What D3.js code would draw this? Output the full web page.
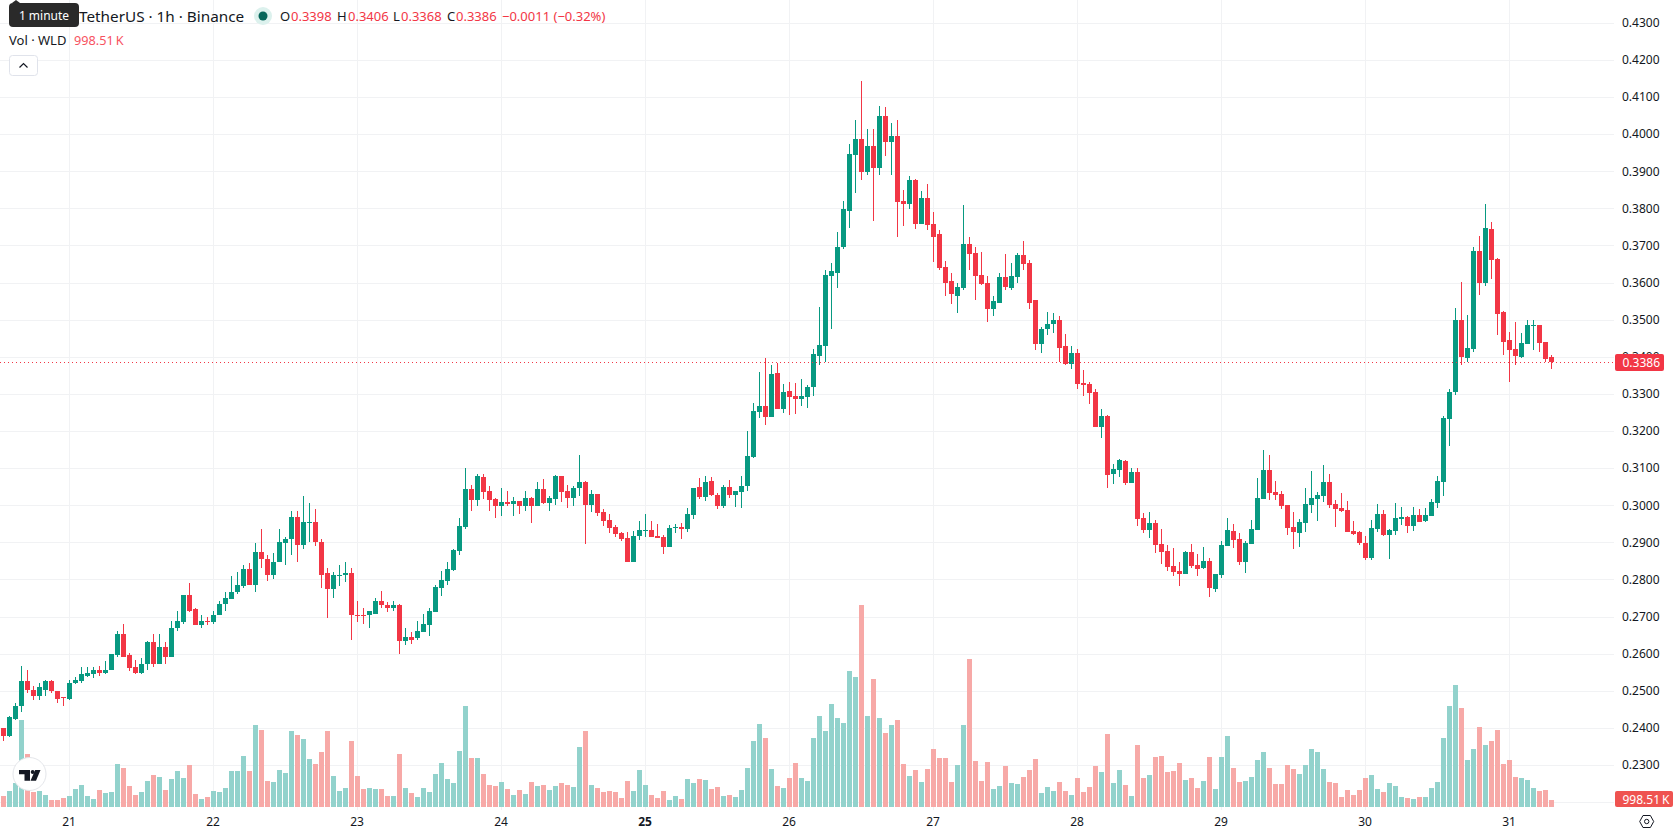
<!DOCTYPE html>
<html>
<head>
<meta charset="utf-8">
<title>WLD / TetherUS 1h</title>
<script src="https://cdn.jsdelivr.net/npm/d3@7"></script>
<style>
  html, body { margin: 0; padding: 0; background: #fff; overflow: hidden; }
  svg { display: block; font-family: "Noto Sans", sans-serif; }
</style>
</head>
<body>
<svg id="chart" width="1678" height="835"></svg>
<script>
// Hourly candles, oldest first.
const opens = [
  0.2399,0.2378,0.2425,0.2458,0.2525,0.2501,0.2485,0.2503,0.2525,0.2498,
  0.2482,0.2479,0.2520,0.2525,0.2541,0.2546,0.2555,0.2549,0.2555,0.2595,
  0.2654,0.2595,0.2563,0.2549,0.2571,0.2630,0.2573,0.2619,0.2592,0.2668,
  0.2684,0.2757,0.2719,0.2676,0.2689,0.2684,0.2703,0.2735,0.2746,0.2767,
  0.2781,0.2827,0.2784,0.2873,0.2856,0.2811,0.2846,0.2897,0.2908,0.2967,
  0.2894,0.2953,0.2956,0.2902,0.2816,0.2773,0.2808,0.2813,0.2816,0.2705,
  0.2705,0.2703,0.2708,0.2743,0.2732,0.2722,0.2730,0.2633,0.2646,0.2641,
  0.2659,0.2677,0.2712,0.2776,0.2795,0.2825,0.2876,0.2941,0.3043,0.3014,
  0.3076,0.3038,0.3016,0.2997,0.3008,0.3003,0.3011,0.2997,0.3019,0.2997,
  0.3043,0.3005,0.3016,0.3078,0.3038,0.3019,0.3046,0.3062,0.3000,0.3030,
  0.2981,0.2960,0.2941,0.2925,0.2911,0.2846,0.2917,0.2930,0.2933,0.2917,
  0.2914,0.2887,0.2938,0.2941,0.2935,0.2973,0.3049,0.3022,0.3065,0.3027,
  0.2997,0.3049,0.3027,0.3035,0.3051,0.3129,0.3251,0.3267,0.3237,0.3356,
  0.3259,0.3307,0.3294,0.3286,0.3291,0.3318,0.3401,0.3428,0.3617,0.3627,
  0.3695,0.3794,0.3943,0.3986,0.3897,0.3967,0.3908,0.4050,0.3978,0.3994,
  0.3819,0.3811,0.3875,0.3759,0.3829,0.3757,0.3730,0.3641,0.3603,0.3565,
  0.3584,0.3703,0.3679,0.3619,0.3598,0.3528,0.3546,0.3614,0.3584,0.3614,
  0.3673,0.3652,0.3552,0.3433,0.3474,0.3487,0.3498,0.3429,0.3380,0.3410,
  0.3329,0.3327,0.3305,0.3211,0.3240,0.3084,0.3095,0.3119,0.3060,0.3089,
  0.2965,0.2933,0.2952,0.2895,0.2876,0.2836,0.2822,0.2814,0.2874,0.2839,
  0.2831,0.2849,0.2774,0.2812,0.2890,0.2930,0.2909,0.2847,0.2895,0.2933,
  0.3017,0.3095,0.3035,0.3030,0.3000,0.2941,0.2925,0.2952,0.3000,0.3017,
  0.3025,0.3062,0.3003,0.2992,0.2987,0.2930,0.2928,0.2898,0.2858,0.2936,
  0.2977,0.2920,0.2931,0.2963,0.2968,0.2944,0.2974,0.2958,0.2971,0.3006,
  0.3063,0.3233,0.3304,0.3498,0.3396,0.3420,0.3685,0.3598,0.3744,0.3663,
  0.3520,0.3444,0.3420,0.3398,0.3433,0.3482,0.3485,0.3439,0.3398
];
const highs = [
  0.2400,0.2433,0.2466,0.2568,0.2555,0.2514,0.2520,0.2528,0.2530,0.2498,
  0.2482,0.2528,0.2538,0.2563,0.2565,0.2565,0.2568,0.2579,0.2598,0.2660,
  0.2679,0.2603,0.2582,0.2587,0.2633,0.2652,0.2652,0.2630,0.2687,0.2716,
  0.2759,0.2789,0.2724,0.2705,0.2700,0.2716,0.2741,0.2765,0.2808,0.2821,
  0.2840,0.2843,0.2897,0.2937,0.2865,0.2870,0.2935,0.2913,0.2983,0.2983,
  0.3024,0.3007,0.2989,0.2910,0.2830,0.2821,0.2838,0.2846,0.2830,0.2741,
  0.2722,0.2716,0.2749,0.2770,0.2738,0.2741,0.2735,0.2670,0.2657,0.2687,
  0.2706,0.2722,0.2784,0.2822,0.2846,0.2882,0.2965,0.3100,0.3054,0.3084,
  0.3084,0.3051,0.3019,0.3046,0.3038,0.3022,0.3011,0.3038,0.3022,0.3062,
  0.3070,0.3024,0.3081,0.3078,0.3054,0.3051,0.3135,0.3065,0.3041,0.3030,
  0.2989,0.2976,0.2946,0.2927,0.2927,0.2930,0.2957,0.2976,0.2957,0.2949,
  0.2919,0.2946,0.2949,0.2952,0.2992,0.3046,0.3073,0.3078,0.3076,0.3032,
  0.3054,0.3067,0.3038,0.3078,0.3200,0.3275,0.3359,0.3396,0.3377,0.3383,
  0.3326,0.3332,0.3329,0.3340,0.3324,0.3421,0.3533,0.3633,0.3652,0.3735,
  0.3819,0.3972,0.4037,0.4142,0.4013,0.4013,0.4075,0.4072,0.4029,0.4037,
  0.3848,0.3886,0.3878,0.3846,0.3865,0.3789,0.3741,0.3657,0.3627,0.3598,
  0.3808,0.3722,0.3697,0.3681,0.3617,0.3565,0.3625,0.3678,0.3652,0.3679,
  0.3711,0.3660,0.3552,0.3479,0.3520,0.3517,0.3511,0.3461,0.3429,0.3421,
  0.3364,0.3332,0.3313,0.3259,0.3243,0.3111,0.3124,0.3122,0.3100,0.3100,
  0.2979,0.2982,0.2960,0.2936,0.2893,0.2884,0.2847,0.2876,0.2895,0.2868,
  0.2887,0.2858,0.2814,0.2903,0.2965,0.2949,0.2925,0.2903,0.2960,0.3073,
  0.3149,0.3135,0.3065,0.3038,0.3000,0.2982,0.2963,0.3046,0.3092,0.3035,
  0.3108,0.3084,0.3014,0.3033,0.3011,0.2957,0.2930,0.2917,0.2960,0.3004,
  0.2987,0.2936,0.3006,0.2996,0.2971,0.2995,0.2990,0.2993,0.3017,0.3079,
  0.3239,0.3314,0.3531,0.3601,0.3512,0.3696,0.3725,0.3812,0.3763,0.3666,
  0.3523,0.3468,0.3493,0.3463,0.3498,0.3498,0.3485,0.3439,0.3406
];
const lows = [
  0.2365,0.2376,0.2420,0.2444,0.2495,0.2474,0.2474,0.2485,0.2495,0.2468,
  0.2458,0.2476,0.2517,0.2522,0.2538,0.2533,0.2541,0.2544,0.2555,0.2590,
  0.2592,0.2552,0.2544,0.2546,0.2557,0.2563,0.2573,0.2573,0.2592,0.2662,
  0.2681,0.2711,0.2676,0.2670,0.2676,0.2679,0.2703,0.2714,0.2746,0.2762,
  0.2778,0.2784,0.2765,0.2832,0.2797,0.2800,0.2846,0.2838,0.2865,0.2848,
  0.2883,0.2902,0.2889,0.2776,0.2697,0.2749,0.2781,0.2794,0.2638,0.2684,
  0.2679,0.2668,0.2708,0.2722,0.2711,0.2716,0.2600,0.2622,0.2627,0.2638,
  0.2659,0.2647,0.2712,0.2755,0.2784,0.2822,0.2865,0.2935,0.2984,0.2997,
  0.3016,0.2984,0.2965,0.2970,0.2997,0.2970,0.2976,0.2984,0.2952,0.2997,
  0.3003,0.2984,0.3000,0.3008,0.2992,0.2997,0.3024,0.2895,0.2981,0.2970,
  0.2944,0.2925,0.2914,0.2903,0.2846,0.2846,0.2906,0.2914,0.2914,0.2911,
  0.2868,0.2887,0.2925,0.2908,0.2927,0.2962,0.3016,0.3011,0.3024,0.2989,
  0.2992,0.3019,0.2995,0.2992,0.3038,0.3127,0.3235,0.3216,0.3237,0.3259,
  0.3248,0.3243,0.3245,0.3267,0.3262,0.3294,0.3377,0.3385,0.3474,0.3584,
  0.3689,0.3746,0.3840,0.3875,0.3891,0.3767,0.3891,0.3940,0.3891,0.3722,
  0.3751,0.3797,0.3743,0.3759,0.3741,0.3654,0.3633,0.3565,0.3541,0.3517,
  0.3579,0.3633,0.3552,0.3592,0.3493,0.3511,0.3546,0.3581,0.3581,0.3600,
  0.3633,0.3530,0.3417,0.3409,0.3458,0.3463,0.3386,0.3378,0.3367,0.3313,
  0.3294,0.3273,0.3211,0.3181,0.3046,0.3057,0.3076,0.3054,0.3060,0.2944,
  0.2925,0.2911,0.2871,0.2841,0.2822,0.2809,0.2782,0.2814,0.2831,0.2809,
  0.2828,0.2752,0.2766,0.2804,0.2890,0.2884,0.2839,0.2817,0.2895,0.2933,
  0.3017,0.3014,0.3014,0.2990,0.2920,0.2882,0.2887,0.2928,0.2979,0.2957,
  0.3008,0.2992,0.2941,0.2982,0.2928,0.2920,0.2892,0.2852,0.2852,0.2928,
  0.2917,0.2855,0.2920,0.2947,0.2925,0.2931,0.2955,0.2955,0.2971,0.2993,
  0.3025,0.3160,0.3296,0.3377,0.3385,0.3414,0.3566,0.3590,0.3609,0.3458,
  0.3406,0.3331,0.3379,0.3396,0.3433,0.3417,0.3412,0.3387,0.3368
];
const closes = [
  0.2378,0.2428,0.2460,0.2525,0.2501,0.2485,0.2509,0.2525,0.2498,0.2479,
  0.2480,0.2522,0.2528,0.2544,0.2549,0.2557,0.2549,0.2557,0.2598,0.2654,
  0.2592,0.2560,0.2549,0.2573,0.2630,0.2571,0.2619,0.2590,0.2670,0.2687,
  0.2757,0.2714,0.2676,0.2689,0.2684,0.2705,0.2735,0.2749,0.2767,0.2786,
  0.2827,0.2784,0.2873,0.2854,0.2811,0.2846,0.2900,0.2910,0.2967,0.2894,
  0.2956,0.2956,0.2900,0.2811,0.2773,0.2811,0.2813,0.2816,0.2703,0.2703,
  0.2703,0.2714,0.2743,0.2730,0.2724,0.2730,0.2633,0.2646,0.2638,0.2660,
  0.2680,0.2714,0.2779,0.2798,0.2828,0.2879,0.2944,0.3043,0.3014,0.3078,
  0.3035,0.3014,0.2997,0.3008,0.3003,0.3011,0.2997,0.3019,0.2997,0.3043,
  0.3005,0.3019,0.3078,0.3035,0.3019,0.3046,0.3062,0.3000,0.3030,0.2979,
  0.2957,0.2938,0.2922,0.2908,0.2846,0.2917,0.2933,0.2933,0.2914,0.2911,
  0.2887,0.2938,0.2941,0.2935,0.2976,0.3046,0.3022,0.3062,0.3027,0.2997,
  0.3049,0.3027,0.3038,0.3051,0.3132,0.3253,0.3267,0.3237,0.3353,0.3259,
  0.3305,0.3291,0.3286,0.3294,0.3318,0.3407,0.3431,0.3619,0.3630,0.3697,
  0.3797,0.3945,0.3986,0.3897,0.3967,0.3908,0.4050,0.3978,0.3994,0.3816,
  0.3811,0.3875,0.3759,0.3829,0.3754,0.3724,0.3638,0.3600,0.3568,0.3587,
  0.3703,0.3676,0.3617,0.3595,0.3530,0.3549,0.3614,0.3587,0.3617,0.3673,
  0.3649,0.3546,0.3433,0.3476,0.3487,0.3498,0.3424,0.3380,0.3410,0.3327,
  0.3324,0.3302,0.3211,0.3240,0.3081,0.3097,0.3122,0.3060,0.3089,0.2963,
  0.2933,0.2952,0.2893,0.2874,0.2833,0.2820,0.2814,0.2874,0.2836,0.2828,
  0.2849,0.2777,0.2814,0.2893,0.2933,0.2906,0.2847,0.2898,0.2936,0.3019,
  0.3095,0.3033,0.3027,0.2998,0.2938,0.2928,0.2955,0.3003,0.3019,0.3027,
  0.3062,0.3000,0.2990,0.2984,0.2928,0.2922,0.2897,0.2858,0.2939,0.2977,
  0.2920,0.2933,0.2966,0.2968,0.2944,0.2974,0.2955,0.2974,0.3009,0.3066,
  0.3236,0.3306,0.3498,0.3398,0.3423,0.3685,0.3598,0.3747,0.3660,0.3514,
  0.3441,0.3417,0.3401,0.3436,0.3485,0.3485,0.3436,0.3393,0.3386
];
// Traded volume per hour, in millions of WLD.
const volumes = [
  1.57,2.28,3.47,12.40,7.55,2.19,2.28,1.71,1.00,1.00,
  1.28,1.57,2.57,3.14,1.57,1.14,2.42,2.00,2.14,6.13,
  5.56,2.99,1.71,2.14,3.71,4.56,4.28,2.42,3.99,5.13,
  4.13,5.99,1.85,1.14,1.43,2.28,2.14,2.71,5.13,5.13,
  7.27,5.13,11.69,10.97,3.71,3.56,5.27,4.85,10.83,10.26,
  9.69,6.84,6.13,7.84,10.83,4.42,2.28,2.71,9.41,4.42,
  2.57,2.71,2.57,2.57,1.57,1.57,7.55,2.71,2.00,1.43,
  2.71,2.14,4.70,6.27,3.99,3.42,7.98,14.39,6.98,6.98,
  4.70,3.14,2.99,3.56,2.57,1.71,2.42,1.85,3.56,2.99,
  3.14,2.42,2.99,3.42,3.14,2.85,8.55,10.83,3.14,2.71,
  2.14,2.28,2.14,1.28,3.71,2.28,5.27,3.14,1.71,1.28,
  2.28,1.00,1.57,1.14,3.99,3.42,3.99,3.85,2.57,2.85,
  1.57,1.71,1.43,2.42,5.56,9.41,11.83,9.83,5.42,2.99,
  2.71,4.13,6.27,4.13,3.71,9.83,12.97,10.83,14.68,12.68,
  11.97,19.38,18.53,28.79,12.97,18.24,12.68,10.55,11.69,12.40,
  6.13,4.42,5.27,3.56,5.42,8.27,6.98,6.98,3.56,5.99,
  11.69,21.09,6.56,3.71,6.41,2.57,2.99,5.84,3.42,3.28,
  4.28,5.27,6.84,2.00,2.85,2.28,3.56,2.28,1.71,4.13,
  2.14,2.85,5.84,4.99,10.40,3.42,5.27,3.14,1.57,8.84,
  4.13,4.56,7.13,7.27,4.99,5.13,6.27,3.85,4.13,2.71,
  3.71,7.13,2.57,7.13,10.12,5.56,3.56,3.71,4.28,6.70,
  7.84,5.56,3.28,3.28,5.99,5.42,4.70,5.99,8.27,7.84,
  5.42,3.56,3.42,1.43,2.42,1.71,2.42,4.13,4.56,2.57,
  2.14,3.42,2.99,1.43,1.28,1.14,1.43,1.43,2.71,3.56,
  9.83,14.39,17.39,14.11,6.70,8.27,11.40,8.84,9.41,10.97,
  6.13,6.70,4.28,4.13,3.85,2.71,2.28,2.42,0.99851
];
// Candle index of each midnight and the day it starts.
const dayIndexes = [11, 35, 59, 83, 107, 131, 155, 179, 203, 227, 251];
const dayLabels = ["21", "22", "23", "24", "25", "26", "27", "28", "29", "30", "31"];
const boldDay = "25";
// Grid rows run one step lower than the labels; the volume tag covers that row.
const gridPrices = d3.range(22, 44).map(d => d / 100);
const priceLabels = d3.range(23, 44).map(d => d / 100);
const lastPrice = closes[closes.length - 1];
const lastVolumeLabel = "998.51\u202fK";

const paneRight = 1614, paneBottom = 810, volumeBase = 807;

const UP = "#089981", DOWN = "#f23645";
const UP_VOL = "#92d2cc", DOWN_VOL = "#f7a9a7";
const INK = "#131722", GRID = "#f1f2f4";

const svg = d3.select("#chart");

const x = d3.scaleLinear().domain([0, closes.length - 1]).range([3.5, 1551.5]);
const y = d3.scaleLinear().domain([0.38, 0.29]).range([208.3, 542.3]);
const v = d3.scaleLinear().domain([0, 28.79]).range([volumeBase, 605]);

// Grid
const grid = svg.append("g").attr("shape-rendering", "crispEdges");
grid.selectAll(".h").data(gridPrices).join("line")
  .attr("x1", 0).attr("x2", paneRight)
  .attr("y1", d => Math.round(y(d)) + 0.5).attr("y2", d => Math.round(y(d)) + 0.5)
  .attr("stroke", GRID);
grid.selectAll(".v").data(dayIndexes).join("line")
  .attr("y1", 0).attr("y2", paneBottom)
  .attr("x1", d => x(d)).attr("x2", d => x(d))
  .attr("stroke", GRID);

const idx = d3.range(closes.length);
const isUp = i => closes[i] >= opens[i];

// Volume bars sit beneath the candles
svg.append("g").attr("shape-rendering", "crispEdges")
  .selectAll("rect").data(idx).join("rect")
  .attr("x", i => x(i) - 2.5)
  .attr("width", 5)
  .attr("y", i => Math.round(v(volumes[i])))
  .attr("height", i => volumeBase - Math.round(v(volumes[i])))
  .attr("fill", i => isUp(i) ? UP_VOL : DOWN_VOL);

// Candles: wick first, body on top
const candles = svg.append("g").attr("shape-rendering", "crispEdges");
candles.selectAll(".wick").data(idx).join("rect")
  .attr("x", i => x(i) - 0.5)
  .attr("width", 1)
  .attr("y", i => Math.round(y(highs[i])))
  .attr("height", i => Math.max(1, Math.round(y(lows[i])) - Math.round(y(highs[i]))))
  .attr("fill", i => isUp(i) ? UP : DOWN);
candles.selectAll(".body").data(idx).join("rect")
  .attr("x", i => x(i) - 2.5)
  .attr("width", 5)
  .attr("y", i => Math.round(y(Math.max(opens[i], closes[i]))))
  .attr("height", i => Math.max(1, Math.round(y(Math.min(opens[i], closes[i]))) - Math.round(y(Math.max(opens[i], closes[i])))))
  .attr("fill", i => isUp(i) ? UP : DOWN);

// Last price guide
svg.append("line")
  .attr("x1", 0).attr("x2", paneRight)
  .attr("y1", Math.round(y(lastPrice)) + 0.5).attr("y2", Math.round(y(lastPrice)) + 0.5)
  .attr("stroke", DOWN).attr("stroke-dasharray", "1 3")
  .attr("shape-rendering", "crispEdges");

// Price axis
const priceAxis = d3.axisRight(y).tickValues(priceLabels)
  .tickFormat(d3.format(".4f")).tickSize(0).tickPadding(8);
const pa = svg.append("g").attr("transform", `translate(${paneRight},0)`).call(priceAxis);
pa.select(".domain").remove();
pa.selectAll("text").attr("font-size", 12).attr("font-family", '"Noto Sans", sans-serif').attr("fill", INK);

// Time axis
const timeAxis = d3.axisBottom(x).tickValues(dayIndexes)
  .tickFormat((d, i) => dayLabels[i]).tickSize(0).tickPadding(0);
const ta = svg.append("g").attr("transform", "translate(-1,817)").call(timeAxis);
ta.select(".domain").remove();
ta.selectAll("text")
  .attr("font-size", 12).attr("font-family", '"Noto Sans", sans-serif').attr("fill", INK)
  .attr("font-weight", (d, i) => dayLabels[i] === boldDay ? 700 : 400);

// Value tags on the price axis
const priceTag = svg.append("g").attr("transform", `translate(1615,${Math.round(y(lastPrice)) - 8})`);
priceTag.append("rect").attr("width", 49).attr("height", 17).attr("rx", 2).attr("fill", DOWN);
priceTag.append("text").attr("x", 7.5).attr("y", 13).attr("font-size", 12).attr("fill", "#fff")
  .text(d3.format(".4f")(lastPrice));

const volTag = svg.append("g").attr("transform", "translate(1615,791)");
volTag.append("rect").attr("width", 58).attr("height", 16).attr("rx", 2).attr("fill", "#ef5350");
volTag.append("text").attr("x", 7.5).attr("y", 12.5).attr("font-size", 12).attr("fill", "#fff")
  .text(lastVolumeLabel);

// Legend
const legend = svg.append("g");
legend.append("text").attr("x", 79).attr("y", 21.5).attr("font-size", 15.3).attr("fill", INK)
  .text("TetherUS \u00b7 1h \u00b7 Binance");
legend.append("circle").attr("cx", 263).attr("cy", 16).attr("r", 9).attr("fill", "#dcf1ed");
legend.append("circle").attr("cx", 263).attr("cy", 16).attr("r", 4.5).attr("fill", "#06665a");

const lastIdx = closes.length - 1;
const fmt = d3.format(".4f");
const ohlc = [
  { k: "O", kx: 280, vx: 291, val: opens[lastIdx] },
  { k: "H", kx: 337, vx: 348, val: highs[lastIdx] },
  { k: "L", kx: 393, vx: 401, val: lows[lastIdx] },
  { k: "C", kx: 447, vx: 456, val: closes[lastIdx] }
];
ohlc.forEach(d => {
  legend.append("text").attr("x", d.kx).attr("y", 20.5).attr("font-size", 13).attr("fill", INK).text(d.k);
  legend.append("text").attr("x", d.vx).attr("y", 20.5).attr("font-size", 13).attr("fill", DOWN).text(fmt(d.val));
});
legend.append("text").attr("x", 502).attr("y", 20.5).attr("font-size", 13).attr("fill", DOWN)
  .text("\u22120.0011 (\u22120.32%)");
legend.append("text").attr("x", 9).attr("y", 45).attr("font-size", 13).attr("fill", INK)
  .text("Vol \u00b7 WLD");
legend.append("text").attr("x", 74).attr("y", 45).attr("font-size", 12.7).attr("fill", "#f7525f")
  .text(lastVolumeLabel);

// Collapse button
legend.append("rect").attr("x", 9.5).attr("y", 55.5).attr("width", 28).attr("height", 20).attr("rx", 3)
  .attr("fill", "#fff").attr("stroke", "#e0e3eb");
legend.append("path").attr("d", "M19.5 67.5 L23.5 63.5 L27.5 67.5").attr("fill", "none")
  .attr("stroke", INK).attr("stroke-width", 1.2);

// Interval tooltip
const tip = svg.append("g");
tip.append("path").attr("d", "M12 3 L16 0 L20 3 Z").attr("fill", "#2a2a2a");
tip.append("rect").attr("x", 9).attr("y", 3).attr("width", 70).attr("height", 24).attr("rx", 4).attr("fill", "#2a2a2a");
tip.append("text").attr("x", 44).attr("y", 20).attr("text-anchor", "middle").attr("font-size", 12).attr("fill", "#fff")
  .text("1 minute");

// Platform badge
const badge = svg.append("g").attr("transform", "translate(29.5,774)");
badge.append("circle").attr("r", 16.5).attr("fill", "#fff").attr("stroke", "#e4e6ea").attr("stroke-width", 1);
badge.append("path").attr("fill", "#131722")
  .attr("d", "M-10.5 -4 H0.5 V6.7 H-5 V0.3 H-10.5 Z");
badge.append("circle").attr("cx", 3.2).attr("cy", -2).attr("r", 2).attr("fill", "#131722");
badge.append("path").attr("fill", "#131722")
  .attr("d", "M5.7 -4 H11 L6.5 6.7 H1 Z");

// Scale settings glyph
const gear = svg.append("g").attr("transform", "translate(1646.7,821.5)")
  .attr("fill", "none").attr("stroke", INK).attr("stroke-width", 1);
gear.append("path").attr("d", "M-7 0 L-3.7 -6 H3.7 L7 0 L3.7 6 H-3.7 Z");
gear.append("circle").attr("r", 2.2);
</script>
</body>
</html>
